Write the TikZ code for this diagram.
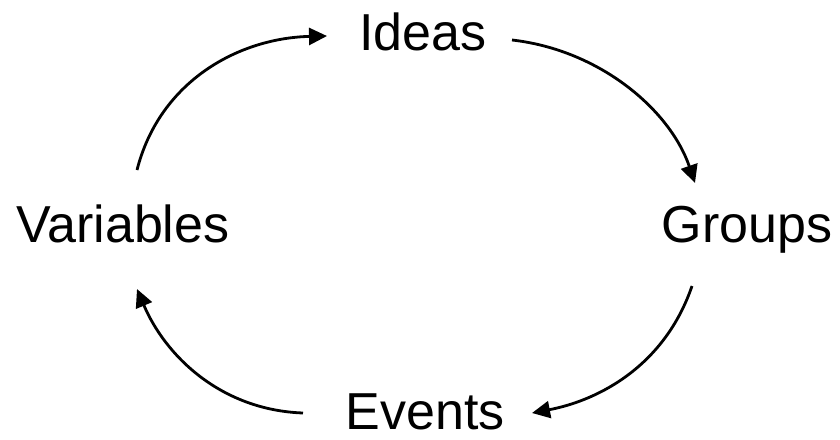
\documentclass[tikz,border=0pt]{standalone}
\usepackage{fontspec}
\setmainfont{Liberation Sans}
\usetikzlibrary{arrows.meta}
\begin{document}
\begin{tikzpicture}[x=1pt,y=-1pt,
  label/.style={font=\fontsize{52}{56}\selectfont, inner sep=0pt, anchor=base},
  flow/.style={line width=2.8pt, -{Triangle[length=18pt,width=17pt]}}]
\useasboundingbox (0,0) rectangle (840,439);
\node[label] (ideas) at (423,50) {Ideas};
\node[label] (groups) at (747,242) {Groups};
\node[label] (events) at (425,429) {Events};
\node[label] (vars) at (123,242) {Variables};
% arrow end points
\coordinate (a1) at (137,170);
\coordinate (b1) at (327,36);
\coordinate (a2) at (512,40);
\coordinate (b2) at (695,183);
\coordinate (a3) at (692,286);
\coordinate (b3) at (532,413);
\coordinate (a4) at (303,413);
\coordinate (b4) at (137,289);
\draw[flow] (a1) .. controls (160,80) and (240,38) .. (b1);
\draw[flow] (a2) .. controls (600,50) and (670,110) .. (b2);
\draw[flow] (a3) .. controls (665,365) and (600,400) .. (b3);
\draw[flow] (a4) .. controls (220,410) and (165,355) .. (b4);
\end{tikzpicture}
\end{document}
